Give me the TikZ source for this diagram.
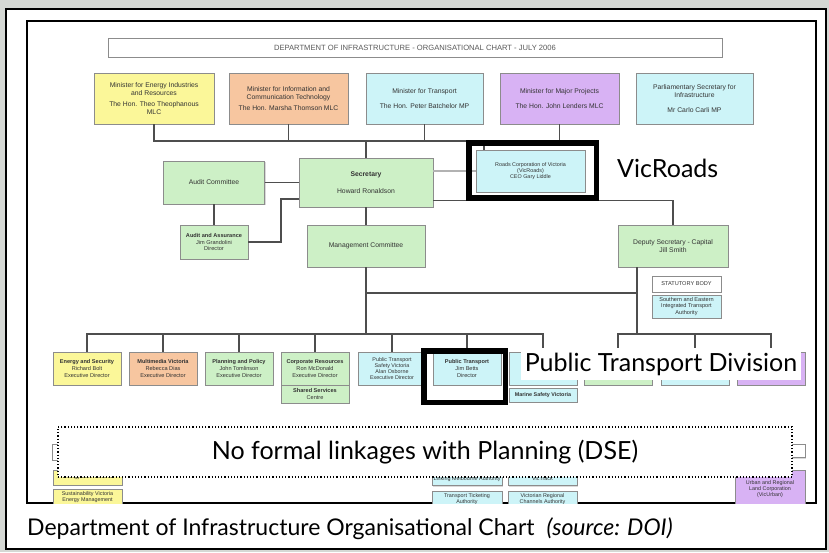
\documentclass[tikz,border=0pt]{standalone}
\usepackage{fontspec}
\setmainfont{Lato}
\newfontfamily\chartfont{Liberation Sans}
\usetikzlibrary{shadows}

\definecolor{slidebg}{HTML}{D5D8D4}
\definecolor{cyel}{HTML}{FBF799}
\definecolor{corg}{HTML}{F7C6A0}
\definecolor{ccyan}{HTML}{CDF4F8}
\definecolor{cpur}{HTML}{D8B2F4}
\definecolor{cgrn}{HTML}{CDF0C6}
\definecolor{cline}{HTML}{4E4E4E}

\tikzset{
  orgbox/.style={draw=black!45, line width=0.8pt, align=center, inner sep=1pt,
    font=\chartfont\fontsize{5.6}{6.8}\selectfont, text=black!80,
    general shadow={fill=black!15, shadow xshift=1.3pt, shadow yshift=-1.3pt}},
  sz/.style 2 args={minimum width=#1pt, minimum height=#2pt},
  bigtext/.style={font=\chartfont\fontsize{6.8}{8}\selectfont},
  midtext/.style={font=\chartfont\fontsize{5.4}{6}\selectfont},
  yelbox/.style={orgbox, fill=cyel},
  orgbox2/.style={orgbox, fill=corg},
  cyanbox/.style={orgbox, fill=ccyan},
  purbox/.style={orgbox, fill=cpur},
  grnbox/.style={orgbox, fill=cgrn},
  whitebox/.style={orgbox, fill=white},
  wire/.style={draw=cline, line width=1.4pt},
  softwire/.style={draw=black!30, line width=1.4pt},
  hilite/.style={draw=black, line width=5.5pt},
  callout/.style={font=\fontsize{25}{30}\selectfont, text=black, inner sep=0pt}
}

\begin{document}
\begin{tikzpicture}[x=1pt, y=-1pt]
\useasboundingbox (0,0) rectangle (829,552);

% slide background and frames
\fill[slidebg] (0,0) rectangle (829,552);
\draw[line width=1.2pt, fill=white] (6,9) rectangle (826,549);
\draw[line width=1.4pt, fill=white] (27,21) rectangle (816,503);

\begin{scope}
\clip (27,21) rectangle (816,503);

% title bar
\node[whitebox, sz={614}{19}, font=\chartfont\fontsize{7.6}{9}\selectfont, text=black!65] (title) at (415,47.5)
  {DEPARTMENT OF INFRASTRUCTURE - ORGANISATIONAL CHART - JULY 2006};

% ministers
\node[yelbox, bigtext, sz={120}{51}] (m1) at (154,98.5)
  {Minister for Energy Industries\\and Resources\\[3pt]The Hon. Theo Theophanous\\MLC};
\node[orgbox2, bigtext, sz={119}{51}] (m2) at (288.5,98.5)
  {Minister for Information and\\Communication Technology\\[3pt]The Hon. Marsha Thomson MLC};
\node[cyanbox, bigtext, sz={117}{51}] (m3) at (424.5,98.5)
  {Minister for Transport\\[7pt]The Hon. Peter Batchelor MP};
\node[purbox, bigtext, sz={119}{51}] (m4) at (559.5,98.5)
  {Minister for Major Projects\\[7pt]The Hon. John Lenders MLC};
\node[cyanbox, bigtext, sz={117}{51}] (m5) at (694.5,98.5)
  {Parliamentary Secretary for\\Infrastructure\\[7pt]Mr Carlo Carli MP};

% second level
\node[grnbox, bigtext, sz={134}{49}] (sec) at (366,182.5)
  {\textbf{Secretary}\\[9pt]Howard Ronaldson};
\node[grnbox, bigtext, sz={101}{43}] (audit) at (214,182.5) {Audit Committee};
\node[cyanbox, midtext, sz={109}{42}] (vr) at (530.5,171)
  {Roads Corporation of Victoria\\(VicRoads)\\CEO Gary Liddle};
\node[grnbox, sz={68}{34}] (aa) at (214,242)
  {\textbf{Audit and Assurance}\\Jim Grandolini\\Director};
\node[grnbox, bigtext, sz={118}{42}] (mc) at (366,246) {Management Committee};
\node[grnbox, bigtext, sz={110}{42}] (dep) at (673,246)
  {Deputy Secretary - Capital\\Jill Smith};
\node[whitebox, sz={69}{16}] (stat) at (686.5,284) {STATUTORY BODY};
\node[cyanbox, sz={69}{23}] (seita) at (686.5,306.5)
  {Southern and Eastern\\Integrated Transport\\Authority};

% divisions
\node[yelbox,  sz={68}{33}] (b1) at (87,368.5)
  {\textbf{Energy and Security}\\Richard Bolt\\Executive Director};
\node[orgbox2, sz={68}{33}] (b2) at (163,368.5)
  {\textbf{Multimedia Victoria}\\Rebecca Dias\\Executive Director};
\node[grnbox,  sz={68}{33}] (b3) at (239,368.5)
  {\textbf{Planning and Policy}\\John Tomlinson\\Executive Director};
\node[grnbox,  sz={68}{33}] (b4) at (315,368.5)
  {\textbf{Corporate Resources}\\Ron McDonald\\Executive Director};
\node[grnbox,  sz={68}{18}] (b4s) at (315,394)
  {\textbf{Shared Services}\\Centre};
\node[cyanbox, midtext, sz={68}{33}] (b5) at (392,368.5)
  {Public Transport\\Safety Victoria\\Alan Osborne\\Executive Director};
\node[cyanbox, sz={68}{33}] (b6) at (467,368.5)
  {\textbf{Public Transport}\\Jim Betts\\Director};
\node[cyanbox, sz={68}{33}] (b7) at (543,368.5) {};
\node[cyanbox, midtext, sz={68}{14}] (b7s) at (543,395)
  {\textbf{Marine Safety Victoria}};
\node[grnbox,  sz={68}{33}] (r1) at (618,368.5) {};
\node[cyanbox, sz={68}{33}] (r2) at (695,368.5) {};
\node[purbox,  sz={68}{33}] (r3) at (771,368.5) {};

% statutory authorities below
\node[whitebox, sz={70}{16}] (sl) at (87,452) {};
\node[whitebox, sz={70}{13}] (sr) at (770,451) {};
\node[yelbox, midtext, sz={69}{15}] (y1) at (87.5,477.5) {Energy Safe Victoria};
\node[yelbox, midtext, sz={69}{16}] (y2) at (87.5,497) {Sustainability Victoria\\Energy Management};
\node[cyanbox, midtext, sz={70}{13}] (c1) at (467,479) {Linking Melbourne Authority};
\node[cyanbox, midtext, sz={70}{16}] (c2) at (467,499) {Transport Ticketing\\Authority};
\node[cyanbox, midtext, sz={69}{13}] (c3) at (542.5,479) {VicTrack};
\node[cyanbox, midtext, sz={69}{16}] (c4) at (542.5,499) {Victorian Regional\\Channels Authority};
\node[purbox, midtext, sz={70}{38}] (p1) at (770,489) {Urban and Regional\\Land Corporation\\(VicUrban)};

% connectors: ministers
\coordinate (busA) at (366,141);
\coordinate (vrtap) at (484,141);
\draw[wire] (m1.south) -- (m1.south |- busA) -- (m4.south |- busA) -- (m4.south);
\draw[wire] (m2.south) -- (m2.south |- busA);
\draw[wire] (m3.south) -- (m3.south |- busA);
\draw[wire] (busA) -- (sec.north);
\draw[wire] (vrtap) -- (vrtap |- vr.north);

% connectors: secretary level
\draw[wire] (audit.east) -- (audit.east -| sec.west);
\draw[softwire] (vr.west) -- (vr.west -| sec.east);
\draw[wire] (sec.south east) ++(0,-7) -| (dep.north);
\draw[wire] (audit.south) -- (aa.north);
\coordinate (kink) at (281,199);
\draw[wire] (aa.east) -| (kink) -- (kink -| sec.west);
\draw[wire] (sec.south) -- (mc.north);

% connectors: divisions
\coordinate (busL) at (366,334);
\coordinate (busR) at (637,334);
\coordinate (cross) at (366,293);
\draw[wire] (mc.south) -- (busL);
\draw[wire] (cross) -- (cross -| busR);
\draw[wire] (dep.south -| busR) -- (busR);
\draw[wire] (b1.north) -- (b1.north |- busL) -- (b7.north |- busL) -- (b7.north);
\foreach \n in {b2,b3,b4,b5,b6}
  \draw[wire] (\n.north) -- (\n.north |- busL);
\draw[wire] (r1.north) -- (r1.north |- busR) -- (r3.north |- busR) -- (r3.north);
\draw[wire] (r2.north) -- (r2.north |- busR);
\end{scope}

% highlights and annotations
\draw[hilite] (469,143) rectangle (596.5,198);
\draw[hilite] (424,351) rectangle (505.5,402.5);
\node[callout, anchor=base west] (vrlbl) at (617,177) {VicRoads};
\node[callout, fill=white, minimum width=280pt, minimum height=32pt] (ptlbl) at (661,364)
  {Public Transport Division};
\node[callout, draw=black, dotted, line width=1.2pt, fill=white,
      minimum width=734pt, minimum height=50pt] (dse) at (425,452)
  {No formal linkages with Planning (DSE)};
\node[callout, anchor=base west, font=\fontsize{23}{28}\selectfont] (cap) at (27,535)
  {Department of Infrastructure Organisational Chart\hspace{12pt}\textit{\fontsize{23}{26}\selectfont(source: DOI)}};
\end{tikzpicture}
\end{document}
